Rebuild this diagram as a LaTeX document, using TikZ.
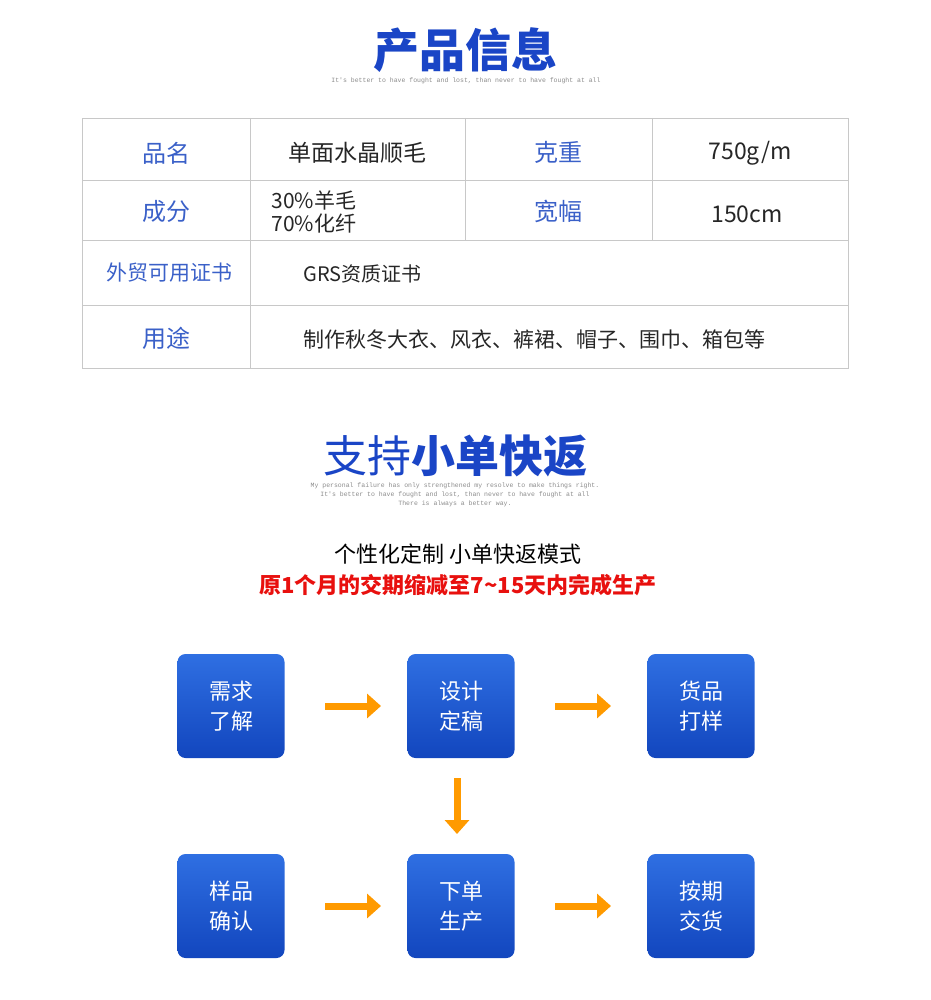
\documentclass[tikz,border=0pt]{standalone}
\usepackage{fontspec}
\setmainfont{Noto Sans CJK SC}
\newfontfamily\monof{Liberation Mono}
\usetikzlibrary{arrows.meta}
\definecolor{tblue}{HTML}{1A45C6}
\definecolor{lblue}{HTML}{3A60C8}
\definecolor{gtop}{HTML}{2F6FE2}
\definecolor{gbot}{HTML}{1246BE}
\definecolor{orng}{HTML}{FF9A00}
\definecolor{grid}{HTML}{C8C8C8}
\definecolor{redt}{HTML}{E8100E}
\tikzset{
 lab/.style={text=lblue,font=\fontsize{24}{26}\selectfont},
 val/.style={text=black!85,font=\fontsize{23}{25}\selectfont},
 small/.style={text=black!45,font=\monof\fontsize{6.5}{9}\selectfont,align=center},
 stepbox/.style={rounded corners=8pt,minimum width=107pt,minimum height=104pt,top color=gtop,bottom color=gbot,draw=none,text=white,align=center,font=\fontsize{22}{30}\selectfont},
 flow/.style={orng,line width=7pt,-{Triangle[length=14pt,width=24pt]}}
}
\begin{document}
\begin{tikzpicture}[x=1pt,y=-1pt]
\useasboundingbox (0,0) rectangle (930,1000);
\node (t1) [text=tblue,font=\bfseries\fontsize{46}{48}\selectfont] at (465,50) {产品信息};
\node (s1) [small] at (466,81) {It's better to have fought and lost, than never to have fought at all};
% table
\draw[grid,line width=0.8pt] (82,118) rectangle (848,368);
\draw[grid,line width=0.8pt] (82,180)--(848,180) (82,240)--(848,240) (82,305)--(848,305)
 (250,118)--(250,368) (465,118)--(465,240) (652,118)--(652,240);
\node (a1) [lab] at (166,153) {品名};
\node (a2) [val] at (357,153) {单面水晶顺毛};
\node (a3) [lab] at (558,152) {克重};
\node (a4) [val] at (750,153) {750g/m};
\node (b1) [lab] at (166,211) {成分};
\node (b2) [val,anchor=west,align=left,font=\fontsize{21}{23}\selectfont] at (268,212) {30\%羊毛\\70\%化纤};
\node (b3) [lab] at (558,211) {宽幅};
\node (b4) [val] at (747,214) {150cm};
\node (c1) [lab,font=\fontsize{21}{23}\selectfont] at (169,273) {外贸可用证书};
\node (c2) [val,anchor=west,font=\fontsize{20}{22}\selectfont] at (300,274) {GRS资质证书};
\node (d1) [lab] at (166,338) {用途};
\node (d2) [val,anchor=west,font=\fontsize{21}{23}\selectfont] at (300,340) {制作秋冬大衣、风衣、裤裙、帽子、围巾、箱包等};
% section 2
\node (t2) [text=tblue,font=\fontsize{44}{46}\selectfont] at (455,456) {支持\textbf{小单快返}};
\node (s2) [small] at (455,495) {My personal failure has only strengthened my resolve to make things right.\\It's better to have fought and lost, than never to have fought at all\\There is always a better way.};
\node (l1) [font=\fontsize{22}{24}\selectfont] at (458,554) {个性化定制 小单快返模式};
\node (l2) [text=redt,font=\bfseries\fontsize{22}{24}\selectfont] at (458,585) {原1个月的交期缩减至7\textasciitilde15天内完成生产};
% flow
\node (n1) [stepbox] at (231,706) {需求\\了解};
\node (n2) [stepbox] at (461,706) {设计\\定稿};
\node (n3) [stepbox] at (701,706) {货品\\打样};
\node (n4) [stepbox] at (231,906) {样品\\确认};
\node (n5) [stepbox] at (461,906) {下单\\生产};
\node (n6) [stepbox] at (701,906) {按期\\交货};
\coordinate (p1) at (325,706); \coordinate (q1) at (381,706);
\coordinate (p2) at (555,706); \coordinate (q2) at (611,706);
\coordinate (p3) at (325,906); \coordinate (q3) at (381,906);
\coordinate (p4) at (555,906); \coordinate (q4) at (611,906);
\coordinate (p5) at (457,778); \coordinate (q5) at (457,834);
\foreach \i in {1,...,5} \draw[flow] (p\i) -- (q\i);
\end{tikzpicture}
\end{document}
